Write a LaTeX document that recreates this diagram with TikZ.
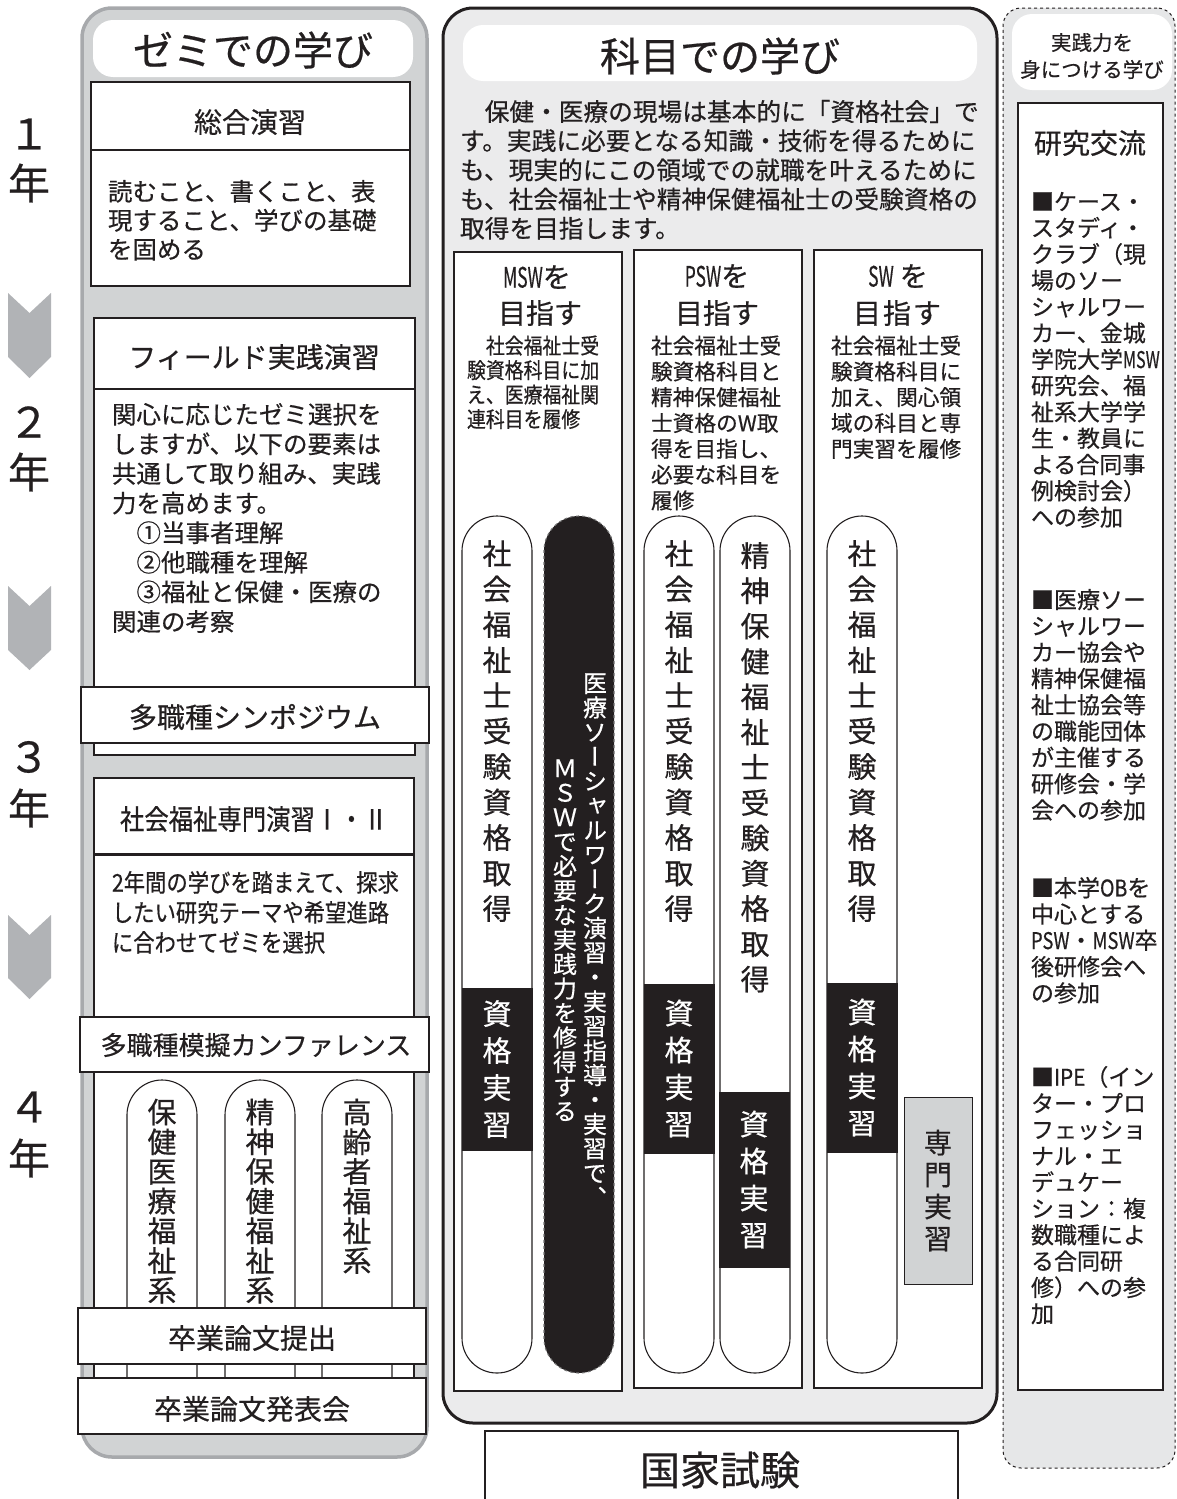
\documentclass[tikz,border=0pt]{standalone}
\usepackage{fontspec}
\usepackage{graphicx}
\setmainfont{Noto Sans CJK JP}[FakeBold=0.5]
\newfontfamily\cjkn[FakeStretch=0.87,FakeBold=0.5]{Noto Sans CJK JP}
\newfontfamily\cjkv[RawFeature=+vert,FakeBold=0.5]{Noto Sans CJK JP}
\definecolor{ink}{HTML}{231F20}
\definecolor{lpfill}{HTML}{D1D3D4}
\definecolor{lpedge}{HTML}{A7A9AC}
\definecolor{chev}{HTML}{B1B3B6}
\definecolor{mpfill}{HTML}{EBEBEC}
\definecolor{rpfill}{HTML}{E6E7E8}
\definecolor{gboxfill}{HTML}{D1D3D4}
\newcommand\fs[2]{\fontsize{#1pt}{#2pt}\selectfont}
\makeatletter
\newcommand\tate[2]{\vbox{\baselineskip=#1\relax\lineskiplimit=-1000pt\lineskip=0pt%
  \@tfor\tate@c:=#2\do{\hbox to 1em{\hss\tate@c\hss\vrule height .88em depth .12em width 0pt}}}}
\makeatother
\newcommand\boxnode[6][]{\node[#1, anchor=north west, inner sep=0pt, outer sep=0pt, minimum width={(#5-#3)*1pt}, minimum height={(#6-#4)*1pt}] (#2) at (#3,#4) {};}
\begin{document}
\begin{tikzpicture}[x=1pt,y=-1pt,
  wbox/.style={draw=ink, line width=1.3pt, fill=white},
  pill/.style={draw=ink, line width=1.1pt, fill=white, rounded corners=34.95pt},
  dpill/.style={draw=black!55, dashed, line width=1.1pt, fill=ink, rounded corners=34.95pt},
  blk/.style={fill=ink, draw=ink},
  gbox/.style={fill=gboxfill, draw=ink, line width=1pt},
  lpanel/.style={draw=lpedge, line width=3.5pt, fill=lpfill, rounded corners=30pt},
  mpanel/.style={draw=ink, line width=3pt, fill=mpfill, rounded corners=30pt},
  rpanel/.style={draw=ink, dashed, line width=1pt, fill=rpfill, rounded corners=18pt},
  ttl/.style={fill=white, rounded corners=20pt},
  t/.style={inner sep=0pt, outer sep=0pt, text=ink},
  tl/.style={t, anchor=north west, align=left},
  tv/.style={t, anchor=north},
  chevron/.style={fill=chev}
]
\useasboundingbox (0,0) rectangle (1177,1499);

% ---------- year labels and chevrons ----------
\foreach \ya/\yb/\yc/\yd in {293/313/357/378, 586/606/650/670, 915/935/978/999}
  \fill[chevron] (8,\ya) -- (29.5,\yb) -- (51,\ya) -- (51,\yc) -- (29.5,\yd) -- (8,\yc) -- cycle;
\node[t, font=\fs{42}{42}] (y1n) at (29,134) {１};
\node[t, font=\fs{42}{42}] (y1k) at (29,183) {年};
\node[t, font=\fs{42}{42}] (y2n) at (29,422) {２};
\node[t, font=\fs{42}{42}] (y2k) at (29,472) {年};
\node[t, font=\fs{42}{42}] (y3n) at (29,757) {３};
\node[t, font=\fs{42}{42}] (y3k) at (29,808) {年};
\node[t, font=\fs{42}{42}] (y4n) at (29,1107) {４};
\node[t, font=\fs{42}{42}] (y4k) at (29,1158) {年};

% ---------- left panel ----------
\boxnode[lpanel]{zemi}{82}{8}{427}{1457}
\boxnode[ttl]{zemiT}{93}{20}{413}{77}
\node[t, font=\fs{40}{40}] (zemiTt) at (253,50) {ゼミでの学び};

\boxnode[wbox]{sogo}{91}{82}{410}{150}
\node[t, font=\fs{28}{28}] (sogot) at (250,122) {総合演習};
\boxnode[wbox]{y1d}{91}{150}{410}{286}
\node[tl, font=\fs{24.5}{29}] (y1dt) at (108,180) {読むこと、書くこと、表\\現すること、学びの基礎\\を固める};

\boxnode[wbox]{field}{94}{318}{415}{389}
\node[t, font=\fs{28}{28}] (fieldt) at (254,357) {フィールド実践演習};
\boxnode[wbox]{y2d}{94}{389}{415}{755}
\node[tl, font=\fs{24.5}{29.6}] (y2dt) at (112,403) {関心に応じたゼミ選択を\\しますが、以下の要素は\\共通して取り組み、実践\\力を高めます。\\　①当事者理解\\　②他職種を理解\\　③福祉と保健・医療の\\関連の考察};
\boxnode[wbox]{symp}{81}{687}{429}{743}
\node[t, font=\fs{28}{28}] (sympt) at (255,717) {多職種シンポジウム};

\boxnode[wbox]{senmon3}{94}{778}{414}{854}
\node[t, font={\cjkn\fs{28}{28}}] (senmon3t) at (254,819) {社会福祉専門演習Ⅰ・Ⅱ};
\boxnode[wbox]{y3d}{94}{855}{414}{1395}
\node[tl, font={\cjkn\fs{24.5}{30}}] (y3dt) at (112,871) {2年間の学びを踏まえて、探求\\したい研究テーマや希望進路\\に合わせてゼミを選択};

\boxnode[pill]{lp1}{127}{1080}{197}{1430}
\boxnode[pill]{lp2}{225}{1080}{295}{1430}
\boxnode[pill]{lp3}{322}{1080}{392}{1430}
\node[tv, font=\fs{29}{29}] (lp1t) at (162,1097.5) {\tate{29.7pt}{保健医療福祉系}};
\node[tv, font=\fs{29}{29}] (lp2t) at (260,1097.5) {\tate{29.7pt}{精神保健福祉系}};
\node[tv, font=\fs{29}{29}] (lp3t) at (357,1097.5) {\tate{29.7pt}{高齢者福祉系}};

\boxnode[wbox]{conf}{80}{1017}{429}{1072}
\node[t, font=\fs{26}{26}] (conft) at (256,1045) {多職種模擬カンファレンス};

\boxnode[wbox]{thesis}{78}{1308}{426}{1364}
\node[t, font=\fs{28}{28}] (thesist) at (252,1338) {卒業論文提出};
\boxnode[wbox]{present}{78}{1378}{426}{1434}
\node[t, font=\fs{28}{28}] (presentt) at (252,1409) {卒業論文発表会};

% ---------- middle panel ----------
\boxnode[mpanel]{kamoku}{443}{8}{997}{1423}
\boxnode[ttl]{kamokuT}{463}{25}{977}{81}
\node[t, font=\fs{40}{40}] (kamokuTt) at (720,56) {科目での学び};
\node[tl, font=\fs{24.7}{29.2}] (para) at (460,100) {　保健・医療の現場は基本的に「資格社会」で\\す。実践に必要となる知識・技術を得るために\\も、現実的にこの領域での就職を叶えるために\\も、社会福祉士や精神保健福祉士の受験資格の\\取得を目指します。};

\boxnode[wbox]{msw}{454}{252}{622}{1391}
\boxnode[wbox]{psw}{634}{250}{802}{1388}
\boxnode[wbox]{sw}{814}{250}{982}{1388}

\node[t, font=\fs{28}{28}] (mswh1) at (537,277) {\scalebox{0.62}[1]{MSW}を};
\node[t, font=\fs{28}{28}] (mswh2) at (540,313) {目指す};
\node[t, font=\fs{28}{28}] (pswh1) at (717,276) {\scalebox{0.62}[1]{PSW}を};
\node[t, font=\fs{28}{28}] (pswh2) at (717,313) {目指す};
\node[t, font=\fs{28}{28}] (swh1) at (898,276) {\scalebox{0.62}[1]{SW}\hspace{6pt}を};
\node[t, font=\fs{28}{28}] (swh2) at (897,313) {目\hspace{2pt}指\hspace{2pt}す};

\node[tl, font={\cjkn\fs{21.7}{24.5}}] (mswd) at (467,335.5) {　社会福祉士受\\験資格科目に加\\え、医療福祉関\\連科目を履修};
\node[tl, font=\fs{21.7}{25.8}] (pswd) at (651,335.5) {社会福祉士受\\験資格科目と\\精神保健福祉\\士資格のW取\\得を目指し、\\必要な科目を\\履修};
\node[tl, font=\fs{21.7}{25.8}] (swd) at (831,335.5) {社会福祉士受\\験資格科目に\\加え、関心領\\域の科目と専\\門実習を履修};

\boxnode[pill]{mp1}{462}{516}{532}{1373}
\boxnode[dpill]{mdark}{544}{516}{614}{1373}
\boxnode[pill]{pp1}{644}{516}{714}{1373}
\boxnode[pill]{pp2}{720}{516}{790}{1373}
\boxnode[pill]{sp1}{827}{516}{897}{1373}

\node[tv, font=\fs{29}{29}] (mp1t) at (497,539) {\tate{35.5pt}{社会福祉士受験資格取得}};
\node[tv, font=\fs{29}{29}] (pp1t) at (679,539) {\tate{35.5pt}{社会福祉士受験資格取得}};
\node[tv, font=\fs{29}{29}] (pp2t) at (755,541) {\tate{35.3pt}{精神保健福祉士受験資格取得}};
\node[tv, font=\fs{29}{29}] (sp1t) at (862,539) {\tate{35.5pt}{社会福祉士受験資格取得}};

\node[tv, text=white, font={\cjkv\fs{24}{24}}] (mdarkt1) at (595,671) {\tate{24.5pt}{医療ソーシャルワーク演習・実習指導・実習で、}};
\node[tv, text=white, font={\cjkv\fs{24}{24}}] (mdarkt2) at (565,756) {\tate{24.5pt}{ＭＳＷで必要な実践力を修得する}};

\boxnode[blk]{kmsw}{462}{988}{532}{1150}
\boxnode[blk]{kpsw1}{644}{984}{714}{1153}
\boxnode[blk]{kpsw2}{719}{1092}{789}{1267}
\boxnode[blk]{ksw}{827}{983}{897}{1152}
\boxnode[gbox]{senmonj}{904}{1097}{972}{1284}
\node[tv, text=white, font=\fs{29}{29}] (kmswt) at (497,999) {\tate{37pt}{資格実習}};
\node[tv, text=white, font=\fs{29}{29}] (kpsw1t) at (679,998.5) {\tate{37pt}{資格実習}};
\node[tv, text=white, font=\fs{29}{29}] (kpsw2t) at (754,1109.5) {\tate{37pt}{資格実習}};
\node[tv, text=white, font=\fs{29}{29}] (kswt) at (862,997.5) {\tate{37pt}{資格実習}};
\node[tv, font=\fs{28}{28}] (senmonjt) at (938,1128.5) {\tate{32pt}{専門実習}};

\boxnode[wbox]{kokka}{485}{1431}{958}{1510}
\node[t, font=\fs{40}{40}] (kokkat) at (720,1470) {国家試験};

% ---------- right panel ----------
\boxnode[rpanel]{jissen}{1003}{8}{1175}{1468}
\boxnode[ttl]{jissenT}{1012}{14}{1172}{90}
\node[t, font=\fs{20.5}{27}, align=center] (jissenTt) at (1092,56) {実践力を\\身につける学び};
\boxnode[wbox]{kenkyu}{1018}{103}{1163}{1390}
\node[t, font=\fs{28}{28}] (kenkyut) at (1090,143) {研究交流};
\node[tl, font=\fs{23}{26.3}] (b1) at (1031,192) {■ケース・\\スタディ・\\クラブ（現\\場のソー\\シャルワー\\カー、金城\\学院大学\scalebox{0.7}[1]{MSW}\\研究会、福\\祉系大学学\\生・教員に\\よる合同事\\例検討会）\\への参加};
\node[tl, font=\fs{23}{26.3}] (b2) at (1031,589) {■医療ソー\\シャルワー\\カー協会や\\精神保健福\\祉士協会等\\の職能団体\\が主催する\\研修会・学\\会への参加};
\node[tl, font=\fs{23}{26.3}] (b3) at (1031,877) {■本学\scalebox{0.85}[1]{OB}を\\中心とする\\\scalebox{0.8}[1]{PSW}・\scalebox{0.8}[1]{MSW}卒\\後研修会へ\\の参加};
\node[tl, font=\fs{23}{26.3}] (b4) at (1031,1066) {■\scalebox{0.9}[1]{IPE}（イン\\ター・プロ\\フェッショ\\ナル・エ\\デュケー\\ション：複\\数職種によ\\る合同研\\修）への参\\加};
\end{tikzpicture}
\end{document}
